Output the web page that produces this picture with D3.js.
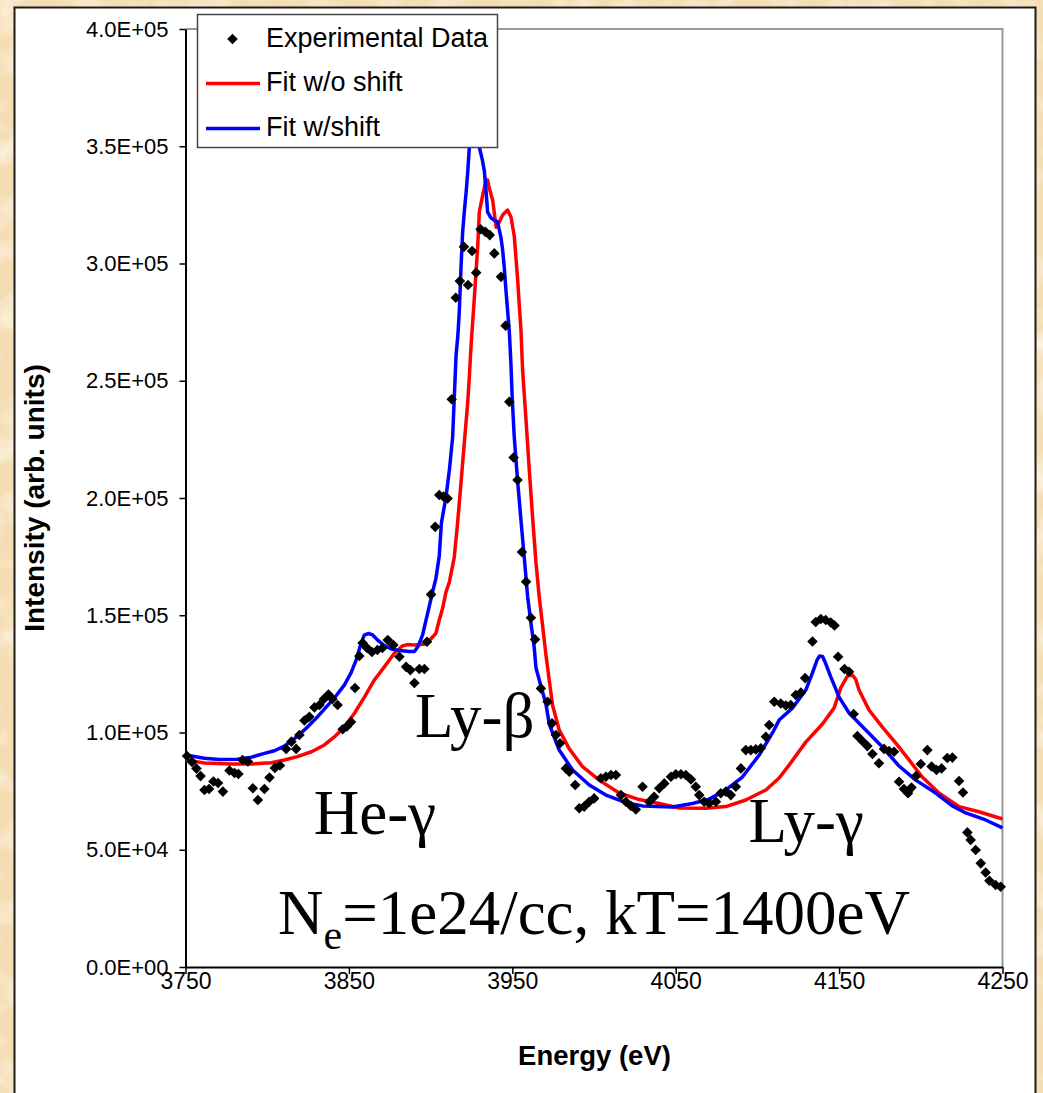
<!DOCTYPE html>
<html>
<head>
<meta charset="utf-8">
<script src="https://cdn.jsdelivr.net/npm/d3@7"></script>
<style>
  html, body { margin: 0; padding: 0; background: #f5dfb7; }
  svg { display: block; }
</style>
</head>
<body>
<svg id="chart" width="1043" height="1093"></svg>
<script>
// ---- Spectrum data (energy in eV, intensity in thousands of arb. units) ----
const expEnergy = [3750.9,3754.0,3756.7,3759.2,3761.6,3764.4,3767.1,3769.9,3772.9,3776.9,3780.0,3782.4,3784.9,3788.2,3791.2,3794.3,3798.3,3801.4,3804.7,3807.8,3811.6,3814.8,3817.7,3819.7,3822.8,3825.8,3828.9,3832.0,3834.7,3837.5,3839.9,3843.1,3846.2,3848.8,3851.3,3853.7,3856.4,3858.4,3861.1,3864.1,3867.4,3870.5,3873.8,3877.2,3880.9,3885.0,3887.6,3890.1,3893.1,3896.2,3897.8,3900.3,3902.8,3905.3,3907.9,3910.4,3912.9,3915.4,3917.9,3920.4,3922.9,3925.4,3927.9,3930.6,3933.5,3936.2,3939.0,3943.1,3945.9,3948.2,3950.8,3953.2,3955.9,3958.4,3961.4,3963.9,3967.5,3971.6,3974.3,3976.7,3979.2,3982.8,3984.9,3988.5,3991.0,3994.0,3997.1,4000.1,4004.2,4007.3,4010.4,4013.4,4016.5,4019.5,4022.6,4025.6,4029.7,4033.8,4036.8,4039.9,4043.0,4047.1,4050.1,4053.2,4056.2,4059.3,4062.3,4064.4,4067.4,4070.5,4074.6,4077.6,4080.7,4083.7,4086.8,4089.9,4092.9,4096.0,4099.0,4102.1,4105.2,4107.2,4110.3,4114.3,4117.4,4120.4,4123.5,4126.6,4129.2,4133.7,4135.7,4138.8,4141.8,4144.9,4147.2,4149.4,4153.3,4156.1,4158.9,4161.2,4164.2,4167.3,4170.4,4174.4,4177.5,4180.6,4183.6,4186.7,4189.7,4192.2,4194.3,4197.1,4200.0,4204.0,4206.6,4209.6,4212.7,4216.2,4219.3,4223.4,4225.8,4228.5,4230.5,4233.6,4236.7,4239.7,4242.0,4245.8,4248.9];
const expIntensity = [90.0,87.4,84.6,81.4,75.5,75.9,79.1,78.5,74.8,83.8,82.7,82.3,88.3,87.6,76.2,71.2,75.9,80.8,84.9,85.9,93.0,96.1,93.0,98.9,105.1,106.7,110.7,111.7,114.3,116.2,114.3,111.7,101.4,102.6,104.5,119.0,132.6,138.2,136.0,134.3,135.2,136.0,139.4,137.3,132.3,128.0,126.6,121.1,127.1,127.1,138.7,158.9,187.7,201.3,200.6,199.8,242.1,285.4,292.5,307.1,290.8,305.3,296.1,314.6,313.5,312.1,304.3,294.3,273.5,241.0,217.3,207.7,177.0,164.3,148.9,139.7,118.8,113.1,103.9,98.9,95.4,84.7,83.3,77.6,67.7,68.4,70.5,71.9,80.5,81.1,81.9,81.9,73.3,70.5,68.7,67.2,76.9,70.5,72.6,76.2,78.3,81.1,82.2,82.2,81.9,80.0,76.9,73.3,70.5,69.8,70.5,74.1,74.8,73.3,76.9,84.7,92.5,92.5,92.8,93.3,98.2,103.2,113.1,112.4,111.5,111.7,116.0,117.0,123.2,138.8,147.1,148.4,148.0,146.9,145.6,132.3,127.1,125.9,107.9,98.5,96.4,94.2,90.8,86.9,93.0,92.1,91.8,79.0,75.9,74.1,76.5,81.4,86.6,92.5,85.5,84.0,84.7,89.1,89.3,79.3,74.4,57.4,54.2,49.9,44.2,40.3,36.8,35.0,34.2];

// Line-shape fit computed without a line shift
const fitNoShiftEnergy = [3750.0,3761.6,3778.1,3790.4,3802.6,3810.5,3818.5,3827.1,3835.0,3841.1,3847.2,3853.4,3859.5,3865.6,3871.7,3877.8,3882.7,3885.8,3890.1,3893.1,3897.2,3901.2,3903.3,3905.3,3907.4,3909.4,3911.5,3914.5,3916.5,3918.6,3920.6,3922.7,3923.7,3924.7,3926.8,3928.8,3929.8,3931.8,3933.9,3934.9,3935.9,3938.0,3940.1,3942.0,3944.1,3947.1,3949.2,3951.2,3953.2,3955.3,3956.3,3958.4,3960.4,3962.4,3964.5,3966.5,3968.5,3970.6,3972.6,3974.6,3978.7,3984.9,3993.0,4003.2,4015.4,4027.7,4039.9,4052.1,4068.5,4080.7,4092.9,4105.2,4113.3,4119.4,4129.6,4139.8,4146.9,4151.0,4155.1,4158.1,4160.1,4162.2,4168.3,4176.5,4184.7,4192.8,4200.9,4211.1,4223.4,4235.6,4250.0];
const fitNoShiftIntensity = [88.3,87.0,86.6,86.6,87.1,88.3,89.7,91.8,94.7,98.1,102.3,108.2,115.1,122.4,128.0,133.8,136.9,137.5,137.3,137.5,137.7,140.7,142.4,148.0,153.1,159.9,164.2,174.8,189.3,206.4,223.4,240.5,251.6,264.4,285.7,307.0,321.9,328.8,335.6,335.6,332.2,327.0,315.5,317.7,320.7,322.8,319.8,311.7,293.8,271.6,254.6,233.2,211.9,191.9,172.3,157.8,145.8,133.0,122.4,111.7,101.1,93.0,85.4,79.7,74.2,71.4,69.7,67.8,67.7,68.4,71.2,75.5,80.6,86.1,95.9,103.6,110.4,119.0,124.1,124.5,122.8,118.1,109.6,102.3,95.5,88.3,81.0,74.2,68.4,66.2,63.1];

// Line-shape fit computed with a line shift
const fitShiftEnergy = [3750.0,3761.6,3770.8,3781.8,3790.4,3798.3,3804.4,3810.5,3816.7,3822.8,3828.9,3835.0,3841.1,3847.2,3851.3,3854.4,3857.5,3859.5,3861.9,3864.6,3867.6,3871.7,3876.0,3880.9,3887.0,3890.1,3892.5,3895.1,3898.2,3901.2,3903.3,3905.3,3906.6,3909.4,3911.5,3913.5,3914.5,3915.6,3916.7,3917.6,3918.6,3919.6,3920.6,3921.7,3922.7,3923.7,3924.9,3926.1,3927.4,3928.6,3929.8,3931.7,3932.9,3933.9,3934.9,3937.0,3939.0,3941.0,3943.1,3944.1,3945.1,3946.1,3948.2,3949.2,3950.0,3951.2,3953.2,3955.3,3957.3,3959.4,3961.4,3963.4,3964.5,3966.5,3970.6,3972.6,3978.7,3986.9,3997.1,4007.3,4019.5,4029.7,4048.0,4060.3,4070.5,4080.7,4090.8,4101.1,4109.2,4113.3,4121.4,4129.6,4133.7,4136.5,4138.1,4139.9,4141.4,4144.9,4150.0,4156.1,4166.3,4176.5,4186.7,4196.9,4209.1,4219.3,4227.5,4239.7,4250.0];
const fitShiftIntensity = [90.4,89.0,88.5,88.6,89.5,91.1,92.2,94.2,97.4,101.1,105.3,110.0,114.7,120.2,125.4,130.9,138.2,141.6,142.2,141.6,139.4,137.1,135.6,135.0,134.5,134.5,136.9,141.6,150.9,159.9,165.9,175.3,189.3,200.4,211.9,226.0,243.0,261.0,269.5,280.1,298.1,313.4,321.9,330.0,338.6,349.6,356.0,359.5,357.7,353.5,349.6,344.1,339.4,331.3,321.9,319.4,318.5,317.7,310.9,305.7,298.1,288.7,270.8,256.7,241.8,226.0,207.7,190.6,174.8,157.8,146.7,136.4,127.5,122.4,112.1,103.6,92.5,84.0,77.6,73.3,70.1,68.7,68.2,69.7,71.6,75.5,81.0,90.4,99.8,105.3,110.4,118.1,125.4,130.9,132.6,132.4,130.1,123.7,115.1,108.3,101.1,93.8,85.7,79.7,74.2,68.7,65.7,62.7,59.3];

// Axis ticks
const energyTicks = [3750, 3850, 3950, 4050, 4150, 4250];
const intensityTicks = [0, 50, 100, 150, 200, 250, 300, 350, 400];

// Legend and annotation texts
const seriesNames = ["Experimental Data", "Fit w/o shift", "Fit w/shift"];
const seriesColors = ["#000000", "#ff0000", "#0000ff"];
const peakLabels = [
  { text: "Ly-\u03b2", energy: 3890.5, intensity: 98.0 },
  { text: "He-\u03b3", energy: 3828.5, intensity: 56.8 },
  { text: "Ly-\u03b3", energy: 4094.5, intensity: 53.3 }
];

// ---- Drawing ----
const svg = d3.select("#chart");
const W = 1043, H = 1093;
const plot = { left: 185.5, right: 1002.5, top: 29, bottom: 967 };

const x = d3.scaleLinear().domain([3750, 4250]).range([plot.left, plot.right]);
const y = d3.scaleLinear().domain([0, 400]).range([plot.bottom, plot.top]);

const sans = "'Liberation Sans', Arial, Helvetica, sans-serif";
const serif = "'Liberation Serif', 'Times New Roman', Times, serif";

// parchment background
const defs = svg.append("defs");
const paper = defs.append("filter").attr("id", "paper")
  .attr("x", 0).attr("y", 0).attr("width", "100%").attr("height", "100%");
paper.append("feTurbulence").attr("type", "fractalNoise")
  .attr("baseFrequency", "0.03").attr("numOctaves", 3).attr("seed", 11).attr("result", "n");
paper.append("feColorMatrix").attr("in", "n").attr("type", "matrix")
  .attr("values", "0 0 0 0 1  0 0 0 0 0.97  0 0 0 0 0.9  1.6 0 0 0 -0.72");

svg.append("rect").attr("width", W).attr("height", H).attr("fill", "#f4ddb3");
svg.append("rect").attr("width", W).attr("height", H).attr("filter", "url(#paper)");

// white chart panel
svg.append("rect")
  .attr("x", 14.5).attr("y", 7.5).attr("width", 1021).attr("height", H + 20)
  .attr("fill", "#ffffff").attr("stroke", "#1a1a1a").attr("stroke-width", 2);

// plot frame (top and right in grey)
svg.append("path")
  .attr("d", `M${plot.left},${plot.top}H${plot.right}V${plot.bottom}`)
  .attr("fill", "none").attr("stroke", "#999999").attr("stroke-width", 2);

const sciLabel = v => {
  const val = v * 1000;
  if (val === 0) return "0.0E+00";
  const e = Math.floor(Math.log10(val));
  const m = val / Math.pow(10, e);
  return `${m.toFixed(1)}E+${String(e).padStart(2, "0")}`;
};

// y axis
const yAxis = svg.append("g")
  .attr("transform", `translate(${plot.left},0)`)
  .call(d3.axisLeft(y).tickValues(intensityTicks).tickSize(6).tickSizeOuter(0)
    .tickPadding(11).tickFormat(sciLabel));
yAxis.select(".domain").attr("stroke", "#000").attr("stroke-width", 2);
yAxis.selectAll(".tick line").attr("stroke", "#000").attr("stroke-width", 1.5);
yAxis.selectAll(".tick text").attr("font-family", sans).attr("font-size", 22)
  .attr("fill", "#000");

// x axis
const xAxis = svg.append("g")
  .attr("transform", `translate(0,${plot.bottom})`)
  .call(d3.axisBottom(x).tickValues(energyTicks).tickSize(7).tickSizeOuter(0)
    .tickPadding(0).tickFormat(d3.format("d")));
xAxis.select(".domain").attr("stroke", "#000").attr("stroke-width", 2);
xAxis.selectAll(".tick line").attr("stroke", "#000").attr("stroke-width", 1.5);
xAxis.selectAll(".tick text").attr("font-family", sans).attr("font-size", 23)
  .attr("fill", "#000").attr("dy", "0.65em");

// axis titles
svg.append("text")
  .attr("x", 594.5).attr("y", 1065).attr("text-anchor", "middle")
  .attr("font-family", sans).attr("font-weight", "bold").attr("font-size", 27.5)
  .text("Energy (eV)");
svg.append("text")
  .attr("transform", "translate(44,498) rotate(-90)").attr("text-anchor", "middle")
  .attr("font-family", sans).attr("font-weight", "bold").attr("font-size", 28)
  .text("Intensity (arb. units)");

// fit curves
const line = d3.line().x(d => x(d[0])).y(d => y(d[1]));
svg.append("path")
  .datum(d3.zip(fitNoShiftEnergy, fitNoShiftIntensity))
  .attr("d", line).attr("fill", "none")
  .attr("stroke", seriesColors[1]).attr("stroke-width", 3.5).attr("stroke-linejoin", "round");
svg.append("path")
  .datum(d3.zip(fitShiftEnergy, fitShiftIntensity))
  .attr("d", line).attr("fill", "none")
  .attr("stroke", seriesColors[2]).attr("stroke-width", 3.5).attr("stroke-linejoin", "round");

// experimental points as diamonds
const diamond = d3.symbol().type(d3.symbolSquare).size(56);
svg.append("g").selectAll("path")
  .data(d3.zip(expEnergy, expIntensity))
  .join("path")
  .attr("d", diamond)
  .attr("transform", d => `translate(${x(d[0])},${y(d[1])}) rotate(45)`)
  .attr("fill", seriesColors[0]);

// peak annotations
svg.append("g").selectAll("text")
  .data(peakLabels)
  .join("text")
  .attr("x", d => x(d.energy)).attr("y", d => y(d.intensity))
  .attr("font-family", serif).attr("font-size", 63).attr("fill", "#000")
  .text(d => d.text);

// plasma conditions
const cond = svg.append("text")
  .attr("x", 278).attr("y", 934)
  .attr("font-family", serif).attr("font-size", 63).attr("fill", "#000");
cond.append("tspan").text("N");
cond.append("tspan").attr("font-size", 42).attr("dy", 15).text("e");
cond.append("tspan").attr("dy", -15).text("=1e24/cc, kT=1400eV");

// legend
const legend = svg.append("g");
legend.append("rect")
  .attr("x", 197.5).attr("y", 14.5).attr("width", 300).attr("height", 133)
  .attr("fill", "#ffffff").attr("stroke", "#444444").attr("stroke-width", 1.5);
const rowY = [39, 83.5, 128.5];
legend.append("path")
  .attr("d", diamond)
  .attr("transform", `translate(232.5,${rowY[0]}) rotate(45)`)
  .attr("fill", seriesColors[0]);
[1, 2].forEach(i => {
  legend.append("line")
    .attr("x1", 206).attr("x2", 260).attr("y1", rowY[i]).attr("y2", rowY[i])
    .attr("stroke", seriesColors[i]).attr("stroke-width", 3.5);
});
legend.selectAll("text.lbl")
  .data(seriesNames)
  .join("text")
  .attr("class", "lbl")
  .attr("x", 266).attr("y", (d, i) => rowY[i] + 7.5)
  .attr("font-family", sans).attr("font-size", 27).attr("fill", "#000")
  .text(d => d);
</script>
</body>
</html>
